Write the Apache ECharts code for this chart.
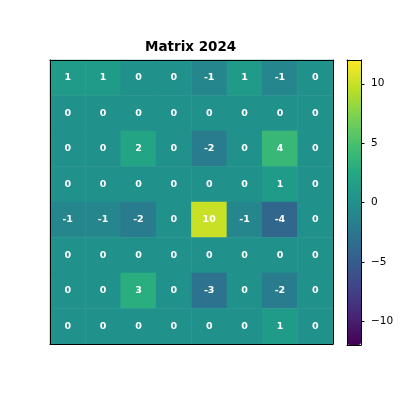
<!DOCTYPE html>
<html>
<head>
<meta charset="utf-8"/>
<script src="https://cdn.jsdelivr.net/npm/echarts@6/dist/echarts.min.js"></script>
<style>
  html, body { margin: 0; padding: 0; background: #fff; }
  #main { width: 400px; height: 400px; }
</style>
</head>
<body>
<div id="main"></div>
<script>
// matrix values, row 0 at the top
var cols = ['0', '1', '2', '3', '4', '5', '6', '7'];
var rows = ['0', '1', '2', '3', '4', '5', '6', '7'];
var matrix = [
  [ 1,  1,  0, 0, -1,  1, -1, 0],
  [ 0,  0,  0, 0,  0,  0,  0, 0],
  [ 0,  0,  2, 0, -2,  0,  4, 0],
  [ 0,  0,  0, 0,  0,  0,  1, 0],
  [-1, -1, -2, 0, 10, -1, -4, 0],
  [ 0,  0,  0, 0,  0,  0,  0, 0],
  [ 0,  0,  3, 0, -3,  0, -2, 0],
  [ 0,  0,  0, 0,  0,  0,  1, 0]
];
var colorMin = -12, colorMax = 12;
var barTicks = [-10, -5, 0, 5, 10];
var viridis = ['#440154', '#482475', '#414487', '#355f8d', '#2a788e', '#21918c',
               '#22a884', '#44bf70', '#7ad151', '#bddf26', '#fde725'];

var cells = [];
for (var r = 0; r < matrix.length; r++) {
  for (var c = 0; c < matrix[r].length; c++) {
    cells.push([c, r, matrix[r][c]]);
  }
}

function lineOnly(extra) {
  return Object.assign({
    axisLine: { show: true, onZero: false, lineStyle: { color: '#000', width: 1 } },
    axisTick: { show: false },
    axisLabel: { show: false },
    splitLine: { show: false },
    z: 10
  }, extra);
}

var chart = echarts.init(document.getElementById('main'));
chart.setOption({
  animation: false,
  title: {
    text: 'Matrix 2024',
    left: 145, top: 40,
    padding: 0,
    textStyle: { fontFamily: 'DejaVu Sans', fontWeight: 'bold', fontSize: 13.5, color: '#000' }
  },
  grid: [
    { left: 50, top: 60, width: 283, height: 284 },
    { left: 347, top: 60, width: 14, height: 285 }
  ],
  xAxis: [
    lineOnly({ type: 'category', data: cols, gridIndex: 0, position: 'bottom' }),
    lineOnly({ type: 'category', data: cols, gridIndex: 0, position: 'top' }),
    lineOnly({ type: 'value', min: 0, max: 1, gridIndex: 1, position: 'bottom' }),
    lineOnly({ type: 'value', min: 0, max: 1, gridIndex: 1, position: 'top' })
  ],
  yAxis: [
    lineOnly({ type: 'category', data: rows, inverse: true, gridIndex: 0, position: 'left' }),
    lineOnly({ type: 'category', data: rows, inverse: true, gridIndex: 0, position: 'right' }),
    lineOnly({ type: 'value', min: colorMin, max: colorMax, gridIndex: 1, position: 'left' }),
    {
      type: 'value', min: colorMin, max: colorMax, gridIndex: 1, position: 'right', z: 10,
      axisLine: { show: true, onZero: false, lineStyle: { color: '#000', width: 1 } },
      axisTick: { show: true, length: 3.5, customValues: barTicks, lineStyle: { color: '#000' } },
      axisLabel: {
        show: true, margin: 10, customValues: barTicks,
        fontFamily: 'DejaVu Sans', fontSize: 10.5, color: '#000',
        formatter: function (v) { return String(v).replace('-', '\u2212'); }
      },
      splitLine: { show: false }
    }
  ],
  visualMap: {
    type: 'continuous',
    min: colorMin, max: colorMax,
    seriesIndex: 0,
    calculable: false,
    left: 347, top: 60,
    itemWidth: 14, itemHeight: 285,
    padding: 0,
    text: null,
    showLabel: false,
    inRange: { color: viridis }
  },
  series: [{
    type: 'heatmap',
    xAxisIndex: 0, yAxisIndex: 0,
    data: cells,
    itemStyle: { borderWidth: 0 },
    label: {
      show: true,
      color: '#fff',
      fontFamily: 'DejaVu Sans', fontWeight: 'bold', fontSize: 9.5,
      formatter: function (p) { return String(p.value[2]); }
    },
    emphasis: { disabled: true }
  }]
});
</script>
</body>
</html>
